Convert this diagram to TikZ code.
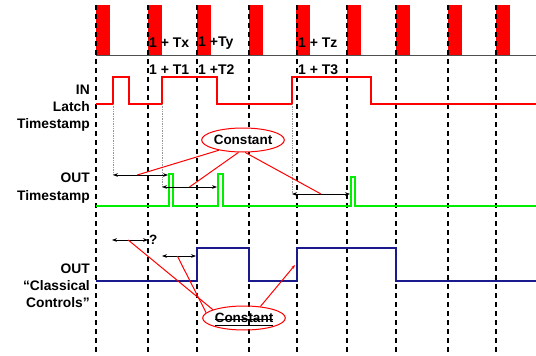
\documentclass[tikz,border=0pt]{standalone}
\usepackage{fontspec}
\setmainfont{Liberation Sans}
\usetikzlibrary{arrows.meta, positioning, shapes.geometric, calc}
\definecolor{sigRed}{HTML}{FF0000}
\definecolor{sigGreen}{HTML}{00EE00}
\definecolor{sigBlue}{HTML}{1A1A8C}
\definecolor{gridGray}{HTML}{505050}
\definecolor{dotGray}{HTML}{999999}
\tikzset{
  tickV/.style={black, line width=1.3pt, dash pattern=on 5pt off 4pt},
  clockBar/.style={fill=sigRed, draw=none},
  wavR/.style={sigRed, line width=2.6pt},
  wavG/.style={sigGreen, line width=2pt},
  wavB/.style={sigBlue, line width=2.2pt},
  dotV/.style={dotGray, densely dotted, line width=0.7pt},
  arrowK/.style={{Stealth[length=5pt]}-{Stealth[length=5pt]}, black, line width=1pt},
  lineR/.style={sigRed, line width=1pt},
  ellR/.style={ellipse, draw=sigRed, line width=1pt, minimum width=82pt,
               minimum height=24pt, inner sep=0pt, font=\bfseries\fontsize{13.5}{14}\selectfont},
  labL/.style={align=right, anchor=east, inner sep=0pt, font=\bfseries\fontsize{13.8}{17}\selectfont},
  labT/.style={anchor=west, inner sep=0pt, font=\bfseries\fontsize{14}{16}\selectfont},
}
\begin{document}
\begin{tikzpicture}[x=1pt, y=-1pt]
  \useasboundingbox (0,0) rectangle (536,356);
  \foreach \x in {96,148,197,249,296,347,396,448,496}
    \fill[clockBar] (\x,5) rectangle ++(14,50);
  \draw[gridGray, line width=0.8pt] (96,55) -- (536,55);
  \foreach \x in {96,148,197,249,297,347,396,448,496}
    \draw[tickV] (\x,5) -- (\x,356);
  \node[labT] (tx) at (149,43) {1 + Tx};
  \node[labT] (ty) at (198,43) {1 +Ty};
  \node[labT] (tz) at (298,43) {1 + Tz};
  \node[labT] (t1) at (149,70) {1 + T1};
  \node[labT] (t2) at (198,70) {1 +T2};
  \node[labT] (t3) at (298,70) {1 + T3};
  \node[labL] (lin) at (90,108) {IN\\Latch\\Timestamp};
  \node[labL, font=\bfseries\fontsize{13.8}{18}\selectfont] (lout) at (90,188) {OUT\\Timestamp};
  \node[labL] (lcc) at (90,286) {OUT\\“Classical\\Controls”};
  \draw[wavR] (96,104) -- (113,104) -- (113,77) -- (129,77) -- (129,104) -- (162,104) -- (162,77)
    -- (217,77) -- (217,104) -- (292,104) -- (292,77) -- (371,77) -- (371,104) -- (536,104);
  \draw[wavG] (96,206) -- (169,206) -- (169,174) -- (173,174) -- (173,206) -- (218,206) -- (218,174)
    -- (223,174) -- (223,206) -- (351,206) -- (351,177) -- (355,177) -- (355,206) -- (536,206);
  \draw[wavB] (96,281) -- (197,281) -- (197,248) -- (249,248) -- (249,281) -- (297,281) -- (297,248)
    -- (396,248) -- (396,281) -- (536,281);
  \coordinate (r1) at (113,104); \coordinate (r2) at (162,104); \coordinate (r3) at (292,104);
  \coordinate (a1) at (113,175); \coordinate (a1e) at (168,175);
  \coordinate (a2) at (162,187); \coordinate (a2e) at (217,187);
  \coordinate (a3) at (292,194); \coordinate (a3e) at (350,194);
  \coordinate (b1) at (112,240); \coordinate (b1e) at (148,240);
  \coordinate (b2) at (162,256); \coordinate (b2e) at (196,256);
  \coordinate (e3) at (295,265);
  \draw[dotV] (r1) -- (a1); \draw[dotV] (r2) -- (a2); \draw[dotV] (r3) -- (a3);
  \draw[arrowK] (a1) -- (a1e); \draw[arrowK] (a2) -- (a2e); \draw[arrowK] (a3) -- (a3e);
  \draw[arrowK] (b1) -- (b1e); \draw[arrowK] (b2) -- (b2e);
  \node[anchor=west, inner sep=0pt, font=\bfseries\fontsize{13.5}{14}\selectfont] (q) at (149,240) {?};
  \node[ellR, fill=white] (c1) at (243,140) {Constant};
  \node[ellR] (c2) at (244,318) {Constant};
  \draw[lineR] (c1.203) -- ($(a1)!0.44!(a1e)$);
  \draw[lineR] (c1.250) -- ($(a2)!0.5!(a2e)$);
  \draw[lineR] (c1.280) -- ($(a3)!0.5!(a3e)$);
  \draw[lineR] (c2.165) -- ($(b1)!0.45!(b1e)$);
  \draw[lineR] (c2.172) -- ($(b2)!0.45!(b2e)$);
  \draw[lineR, -{Stealth[length=4pt]}] (c2.35) -- (e3);
  \draw[black, line width=0.7pt] ($(c2)+(-29,1)$) -- ($(c2)+(29,1)$);
  \draw[black, line width=0.7pt] ($(c2)+(-29,7)$) -- ($(c2)+(29,7)$);
\end{tikzpicture}
\end{document}
